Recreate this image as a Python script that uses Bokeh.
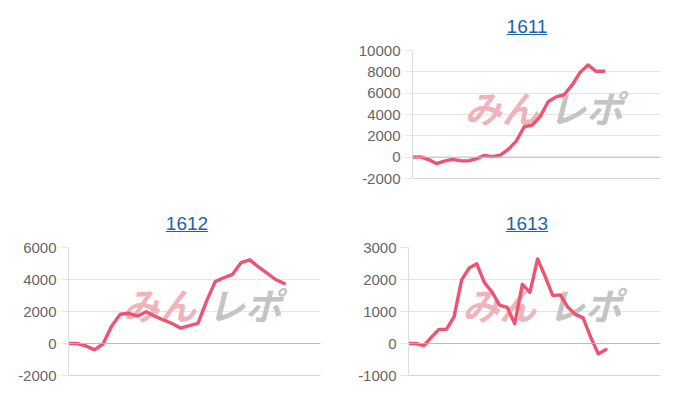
from bokeh.plotting import figure
from bokeh.models import Range1d, FixedTicker, Span, Label, Div, Spacer
from bokeh.layouts import column, row
from bokeh.embed import file_html
from bokeh.resources import INLINE

# ---- data ----
titles = ["1611", "1612", "1613"]

values_1611 = [0, 20, -220, -600, -380, -200, -330, -350, -150, 170, 50, 190,
               730, 1500, 2850, 3000, 3800, 5200, 5650, 5850, 6750, 7950,
               8650, 8050, 8050]
values_1612 = [0, 0, -150, -400, -30, 1100, 1830, 1890, 1710, 1990, 1700,
               1470, 1250, 960, 1120, 1260, 2650, 3870, 4110, 4320, 5060,
               5230, 4790, 4400, 4000, 3750]
values_1613 = [0, 0, -70, 190, 440, 440, 830, 1990, 2360, 2490, 1900, 1610,
               1200, 1130, 620, 1850, 1600, 2640, 2100, 1500, 1520, 1130, 910,
               800, 200, -325, -190]

x_max_1611 = 31.08
x_max_1612 = 29.2
x_max_1613 = 33.2

y_ticks_1611 = [-2000, 0, 2000, 4000, 6000, 8000, 10000]
y_ticks_1612 = [-2000, 0, 2000, 4000, 6000]
y_ticks_1613 = [-1000, 0, 1000, 2000, 3000]

watermark_left = "みん"
watermark_right = "レポ"

LINE_COLOR = "#ec5471"
GRID_COLOR = "#e6e6e6"
FONT = "Liberation Sans"


def make_panel(title, values, x_max, y_ticks, border_left, border_bottom):
    div = Div(
        text=(
            '<div style="width:340px;height:30px;box-sizing:border-box;padding-top:8px;'
            'padding-left:18px;line-height:22px;text-align:center;'
            "font-family:'Liberation Sans',Arial,sans-serif;font-size:19px;\">"
            '<a href="#" style="color:#1a64b0;text-decoration:underline;">'
            f"{title}</a></div>"
        ),
        width=340, height=30, margin=0,
        styles={"width": "340px", "text-align": "center"},
    )
    y0, y1 = y_ticks[0], y_ticks[-1]
    p = figure(
        width=340, height=140 + border_bottom,
        x_range=Range1d(0, x_max), y_range=Range1d(y0, y1),
        output_backend="svg", toolbar_location=None,
        min_border_left=border_left, min_border_right=28,
        min_border_top=12, min_border_bottom=border_bottom,
    )
    p.outline_line_color = None
    p.xgrid.visible = False
    p.ygrid.ticker = FixedTicker(ticks=y_ticks)
    p.ygrid.grid_line_color = GRID_COLOR

    p.yaxis.ticker = FixedTicker(ticks=y_ticks)
    p.yaxis.major_label_overrides = {t: str(t) for t in y_ticks}
    p.yaxis.major_label_text_font = FONT
    p.yaxis.major_label_text_font_size = "15px"
    p.yaxis.major_label_text_color = "#666666"
    p.yaxis.axis_line_color = "#dddddd"
    p.yaxis.major_tick_line_color = GRID_COLOR
    p.yaxis.major_tick_out = 8
    p.yaxis.major_tick_in = 0
    p.yaxis.minor_tick_line_color = None
    p.yaxis.major_label_standoff = 4

    p.xaxis.ticker = FixedTicker(ticks=[])
    p.xaxis.axis_line_color = "#d6d6d6"
    p.xaxis.major_tick_line_color = None
    p.xaxis.minor_tick_line_color = None

    # watermark (drawn below the line)
    wy = y0 + (y1 - y0) * 0.557
    p.add_layout(Label(x=x_max * 0.36, y=wy, text=watermark_left,
                       text_font="Noto Sans CJK JP", text_font_style="bold italic",
                       text_font_size="37px", text_color="#efb4ba",
                       text_align="center", text_baseline="middle",
                       level="underlay"))
    p.add_layout(Label(x=x_max * 0.70, y=wy, text=watermark_right,
                       text_font="Noto Sans CJK JP", text_font_style="bold italic",
                       text_font_size="37px", text_color="#c4c4c4",
                       text_align="center", text_baseline="middle",
                       level="underlay"))

    p.add_layout(Span(location=0, dimension="width", line_color="#bbbbbb",
                      line_width=1))

    xs = list(range(len(values)))
    p.line(xs, values, line_color=LINE_COLOR, line_width=3.4,
           line_join="round", line_cap="round")
    return column(div, p, spacing=0)


panel_1611 = make_panel(titles[0], values_1611, x_max_1611, y_ticks_1611, 64, 27)
panel_1612 = make_panel(titles[1], values_1612, x_max_1612, y_ticks_1612, 60, 20)
panel_1613 = make_panel(titles[2], values_1613, x_max_1613, y_ticks_1613, 60, 20)

layout = column(
    row(Spacer(width=340, height=197, margin=0), panel_1611, spacing=0),
    row(panel_1612, panel_1613, spacing=0),
    spacing=0,
    margin=(8, 0, 0, 8),
)

open("out.html", "w").write(file_html(layout, INLINE))
